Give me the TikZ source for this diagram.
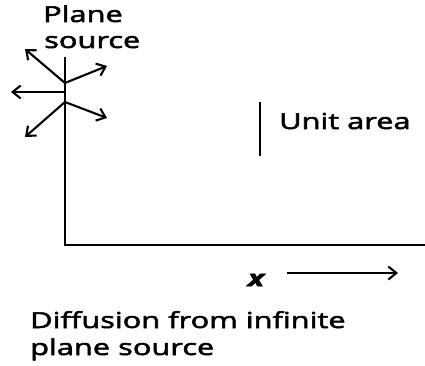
\documentclass[tikz,border=0pt]{standalone}
\usepackage{fontspec}
\setmainfont{Open Sans}[FakeStretch=1.4, FakeBold=2.5]
\usetikzlibrary{arrows.meta}
\begin{document}
\begin{tikzpicture}[x=1pt, y=-1pt]
        \tikzstyle{axis}=[line width=2.6pt]
        \tikzstyle{flux}=[line width=2.1pt, -{Straight Barb[length=8pt, width=13pt, line width=2.1pt]}]
        \tikzstyle{label}=[anchor=base west, inner sep=0pt, font=\fontsize{22}{27}\selectfont]

        \useasboundingbox (0,0) rectangle (425,366);

        % plane and x axis
        \coordinate (top) at (65,57);
        \coordinate (origin) at (65,245);
        \coordinate (xend) at (425,245);
        \draw[axis] (top) -- (origin) -- (xend);

        % particles leaving the plane
        \coordinate (upper) at (65,83);
        \coordinate (middle) at (65,92);
        \coordinate (lower) at (65,102);
        \coordinate (ul) at (25,49);
        \coordinate (ur) at (107,66);
        \coordinate (ml) at (11,92);
        \coordinate (ll) at (25,137);
        \coordinate (lr) at (107,118);
        \draw[flux] (upper) -- (ul);
        \draw[flux] (upper) -- (ur);
        \draw[flux] (middle) -- (ml);
        \draw[flux] (lower) -- (ll);
        \draw[flux] (lower) -- (lr);

        % unit area
        \coordinate (ua) at (260,102);
        \coordinate (ub) at (260,156);
        \draw[axis] (ua) -- (ub);
        \node[label] (unit) at (279,129) {Unit area};

        % direction of x
        \node[font=\fontsize{22}{27}\selectfont\bfseries\itshape, inner sep=0pt] (xlab) at (256,280) {x};
        \coordinate (xa) at (287,273);
        \coordinate (xb) at (398,273);
        \draw[flux, line width=1.6pt] (xa) -- (xb);

        \node[label] (plane) at (43,22) {Plane};
        \node[label] (source) at (44,48) {source};
        \node[label] (cap1) at (30,328) {Diffusion from infinite};
        \node[label] (cap2) at (30,355) {plane source};
    \end{tikzpicture}
\end{document}
